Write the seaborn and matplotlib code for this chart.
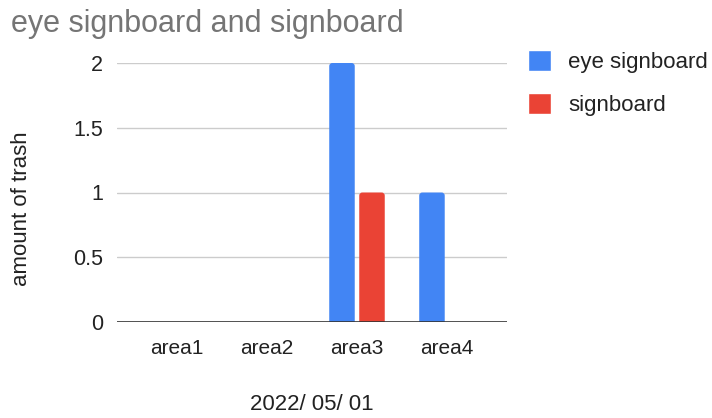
import pandas as pd
import seaborn as sns
import matplotlib.pyplot as plt
from matplotlib.patches import FancyBboxPatch

# chart data
areas = ['area1', 'area2', 'area3', 'area4']
eye_signboard = [0, 0, 2, 1]
signboard = [0, 0, 1, 0]
series_names = ['eye signboard', 'signboard']
y_ticks = [0, 0.5, 1, 1.5, 2]
y_tick_labels = ['0', '0.5', '1', '1.5', '2']

df = pd.DataFrame({
    'area': areas * 2,
    'amount': eye_signboard + signboard,
    'series': [series_names[0]] * 4 + [series_names[1]] * 4,
})

sns.set_style('white')
plt.rcParams['font.family'] = ['Liberation Sans', 'DejaVu Sans']

fig = plt.figure(figsize=(7.12, 4.18), dpi=100)
ax = fig.add_axes([117 / 712, 1 - 322 / 418, 390 / 712, 259 / 418])

palette = {'eye signboard': '#4285F4', 'signboard': '#EA4335'}
sns.barplot(data=df, x='area', y='amount', hue='series', palette=palette,
            width=0.667, gap=0.15, saturation=1, ax=ax, zorder=3)

ax.set_xlim(-0.667, 3.667)
ax.set_ylim(0, 2)

# swap plain bars for ones with slightly rounded corners
aspect = (2 / 259) / (4.333 / 390)
for bar in list(ax.patches):
    h = bar.get_height()
    if h <= 0:
        bar.remove()
        continue
    rb = FancyBboxPatch((bar.get_x(), -0.05), bar.get_width(), h + 0.05,
                        boxstyle='round,pad=0,rounding_size=0.035',
                        mutation_aspect=aspect, facecolor=bar.get_facecolor(),
                        edgecolor='none', zorder=3)
    ax.add_patch(rb)
    bar.set_visible(False)

ax.set_yticks(y_ticks)
ax.set_yticklabels(y_tick_labels)
for y in y_ticks[1:]:
    ax.axhline(y, color='#cccccc', lw=1, zorder=1)
ax.axhline(0, color='#333333', lw=1.2, zorder=4)

for s in ax.spines.values():
    s.set_visible(False)
ax.tick_params(axis='both', length=0, labelsize=15, colors='#222222')
ax.tick_params(axis='x', pad=12)
ax.tick_params(axis='y', pad=10, labelsize=15.5)

ax.set_xlabel('2022/ 05/ 01', fontsize=16, color='#222222', labelpad=26)
ax.set_ylabel('amount of trash', fontsize=16, color='#222222')
ax.yaxis.set_label_coords(-0.218, 0.436)

fig.text(11 / 712, 1 - 32 / 418, 'eye signboard and signboard', fontsize=22,
         color='#757575', ha='left', va='baseline')

sns.move_legend(ax, 'upper left', bbox_to_anchor=(528 / 712, 1 - 50 / 418),
                bbox_transform=fig.transFigure, title=None, frameon=False,
                fontsize=16, handlelength=1.05, handleheight=1.05,
                handletextpad=0.75, labelspacing=0.9, borderpad=0,
                borderaxespad=0)
for t in ax.get_legend().get_texts():
    t.set_color('#222222')

plt.savefig('out.png', dpi=100)
plt.close()
